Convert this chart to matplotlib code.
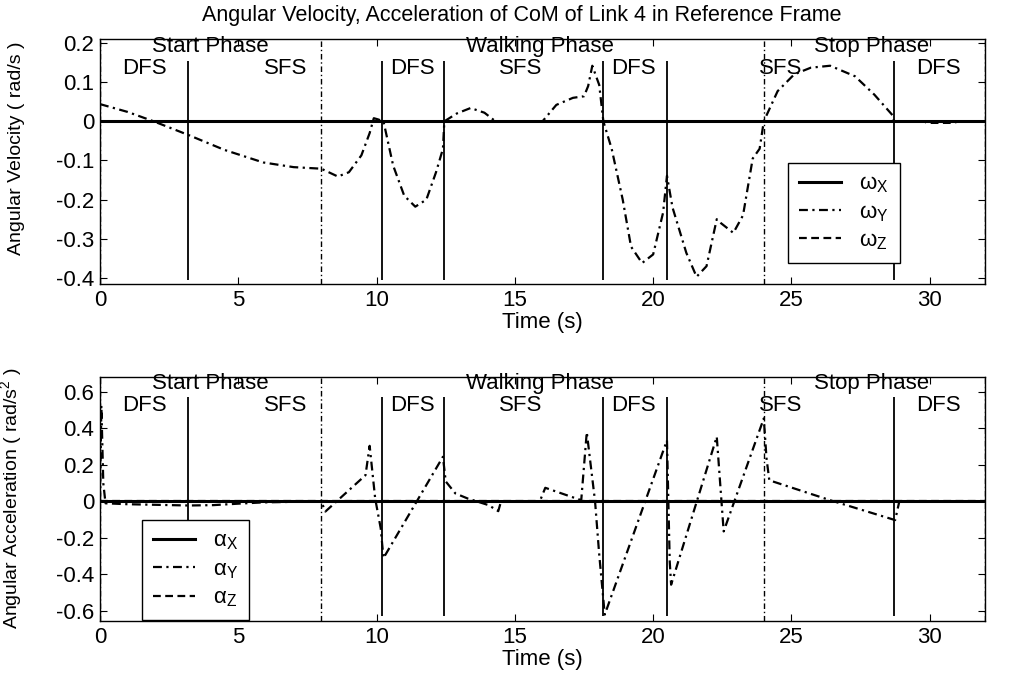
import numpy as np
import matplotlib.pyplot as plt
from matplotlib.ticker import FuncFormatter

plt.rcParams['font.family'] = ['Liberation Sans', 'DejaVu Sans']
plt.rcParams['axes.unicode_minus'] = False
plt.rcParams['mathtext.fontset'] = 'custom'
plt.rcParams['mathtext.rm'] = 'Liberation Sans'
plt.rcParams['mathtext.sf'] = 'Liberation Sans'

# phase boundaries (dash-dot) and support-phase switches (solid)
phase_times = [0, 8, 24, 32]
step_times = [3.2, 10.2, 12.45, 18.2, 20.5, 28.7]

phase_labels = ['Start Phase', 'Walking Phase', 'Stop Phase']
phase_label_t = [4.0, 15.9, 27.9]
step_labels = ['DFS', 'SFS', 'DFS', 'SFS', 'DFS', 'SFS', 'DFS']
step_label_t = [1.6, 6.7, 11.3, 15.2, 19.3, 24.6, 30.3]

# angular velocity (rad/s)
t_wx = [0, 32]
w_x = [0, 0]
t_wy = [0, 1.0, 1.94, 3.2, 4.5, 5.9, 7.0, 8.0, 8.6, 9.0, 9.45, 9.75, 9.9,
        10.05, 10.25, 10.6, 11.0, 11.4, 11.8, 12.15, 12.4, 12.45, 12.9, 13.4,
        13.9, 14.3, 16.0, 16.5, 17.1, 17.5, 17.65, 17.8, 18.05, 18.2, 18.5,
        18.9, 19.2, 19.6, 20.0, 20.36, 20.5, 20.7, 21.2, 21.57, 21.93, 22.3,
        22.45, 22.9, 23.25, 23.6, 23.85, 24.0, 24.5, 25.1, 25.7, 26.4, 27.3,
        28.0, 28.65, 28.7, 32]
w_y = [0.044, 0.024, 0.0, -0.035, -0.073, -0.105, -0.117, -0.121, -0.141,
       -0.13, -0.087, -0.03, 0.008, 0.005, 0.0, -0.113, -0.19, -0.218, -0.2,
       -0.13, -0.07, 0.0, 0.02, 0.034, 0.022, 0.0, 0.0, 0.042, 0.06, 0.064,
       0.09, 0.142, 0.093, 0.0, -0.07, -0.2, -0.32, -0.362, -0.34, -0.233,
       -0.139, -0.22, -0.336, -0.397, -0.37, -0.25, -0.26, -0.285, -0.24,
       -0.095, -0.07, 0.0, 0.077, 0.12, 0.137, 0.142, 0.115, 0.068, 0.016,
       0.0, 0.0]
t_wz = [0, 29.8, 29.9, 30.9, 31.0, 32]
w_z = [0, 0, -0.004, -0.004, 0, 0]

# angular acceleration (rad/s^2)
t_ax = [0, 32]
a_x = [0, 0]
t_ay = [0, 0.05, 0.12, 0.2, 1.0, 3.2, 4.1, 5.0, 5.9, 7.0, 8.0, 8.15, 9.6,
        9.75, 9.95, 10.15, 10.25, 12.4, 12.5, 12.85, 13.3, 14.05, 14.4, 14.5,
        15.9, 16.1, 17.4, 17.6, 17.9, 18.05, 18.25, 20.5, 20.6, 20.65, 22.3,
        22.55, 24.0, 24.1, 24.2, 26.4, 28.75, 28.9, 32]
a_y = [0, 0.525, 0.1, -0.01, -0.015, -0.022, -0.02, -0.012, -0.005, -0.002,
       0.0, -0.055, 0.144, 0.305, 0.016, -0.147, -0.31, 0.245, 0.11, 0.044,
       0.016, -0.02, -0.053, 0.0, 0.0, 0.075, 0.007, 0.38, 0.0, -0.29, -0.62,
       0.335, -0.33, -0.456, 0.355, -0.164, 0.455, 0.235, 0.116, 0.007,
       -0.102, 0.0, 0.0]
t_az = [0, 32]
a_z = [0, 0]

DASHDOT = (0, (4, 2, 1, 2))
DASHED = (0, (3.5, 2))

fig = plt.figure(figsize=(10.13, 6.77), dpi=100)
ax1 = fig.add_axes([0.0987, 0.5805, 0.8737, 0.3619])
ax2 = fig.add_axes([0.0987, 0.0827, 0.8737, 0.3604])


def fmt(v, pos):
    return '%g' % (round(v, 2) + 0.0)


def decorate(ax, ylim, yticks, line_lo, line_hi, y_phase, y_step):
    ax.vlines(phase_times, ylim[0], ylim[1], colors='k', lw=1.0,
              linestyles=DASHDOT)
    ax.vlines(step_times, line_lo, line_hi, colors='k', lw=1.3)
    for lab, t in zip(phase_labels, phase_label_t):
        ax.text(t, y_phase, lab, ha='center', va='center', fontsize=16)
    for lab, t in zip(step_labels, step_label_t):
        ax.text(t, y_step, lab, ha='center', va='center', fontsize=16)
    ax.set_xlim(0, 32)
    ax.set_ylim(*ylim)
    ax.set_xticks([0, 5, 10, 15, 20, 25, 30])
    ax.set_yticks(yticks)
    ax.yaxis.set_major_formatter(FuncFormatter(fmt))
    ax.tick_params(direction='in', top=True, right=True, length=5,
                   labelsize=16, pad=4)
    ax.set_xlabel('Time (s)', fontsize=16, labelpad=1)
    for s in ax.spines.values():
        s.set_linewidth(1.0)


ax1.plot(t_wx, w_x, color='k', lw=2.2, label=r'ω$_\mathsf{X}$')
ax1.plot(t_wy, w_y, color='k', lw=1.6, linestyle=DASHDOT, label=r'ω$_\mathsf{Y}$')
ax1.plot(t_wz, w_z, color='k', lw=1.6, linestyle=DASHED, label=r'ω$_\mathsf{Z}$')
decorate(ax1, (-0.4155, 0.2103), np.arange(-0.4, 0.21, 0.1), -0.405, 0.155,
         0.19, 0.136)
ax1.set_ylabel('Angular Velocity ( rad/s )', fontsize=14)
ax1.yaxis.set_label_coords(-0.085, 0.555)
ax1.legend(loc='lower left', bbox_to_anchor=(0.777, 0.086), borderaxespad=0,
           fontsize=16, handlelength=1.9, fancybox=False, framealpha=1,
           edgecolor='k', labelspacing=0.3, borderpad=0.5)
fig.text(0.515, 0.977, 'Angular Velocity, Acceleration of CoM of Link 4 in Reference Frame',
         ha='center', va='center', fontsize=15.5)

ax2.plot(t_ax, a_x, color='k', lw=2.2, label=r'α$_\mathsf{X}$')
ax2.plot(t_ay, a_y, color='k', lw=1.6, linestyle=DASHDOT, label=r'α$_\mathsf{Y}$')
ax2.plot(t_az, a_z, color='k', lw=1.6, linestyle=DASHED, label=r'α$_\mathsf{Z}$')
decorate(ax2, (-0.655, 0.682), np.arange(-0.6, 0.61, 0.2), -0.625, 0.57,
         0.645, 0.525)
ax2.set_ylabel(r'Angular Acceleration ( rad/s$^2$ )', fontsize=14)
ax2.yaxis.set_label_coords(-0.085, 0.504)
ax2.legend(loc='lower left', bbox_to_anchor=(0.047, 0.004), borderaxespad=0,
           fontsize=16, handlelength=1.9, fancybox=False, framealpha=1,
           edgecolor='k', labelspacing=0.3, borderpad=0.5)

fig.savefig('out.png', dpi=100)
